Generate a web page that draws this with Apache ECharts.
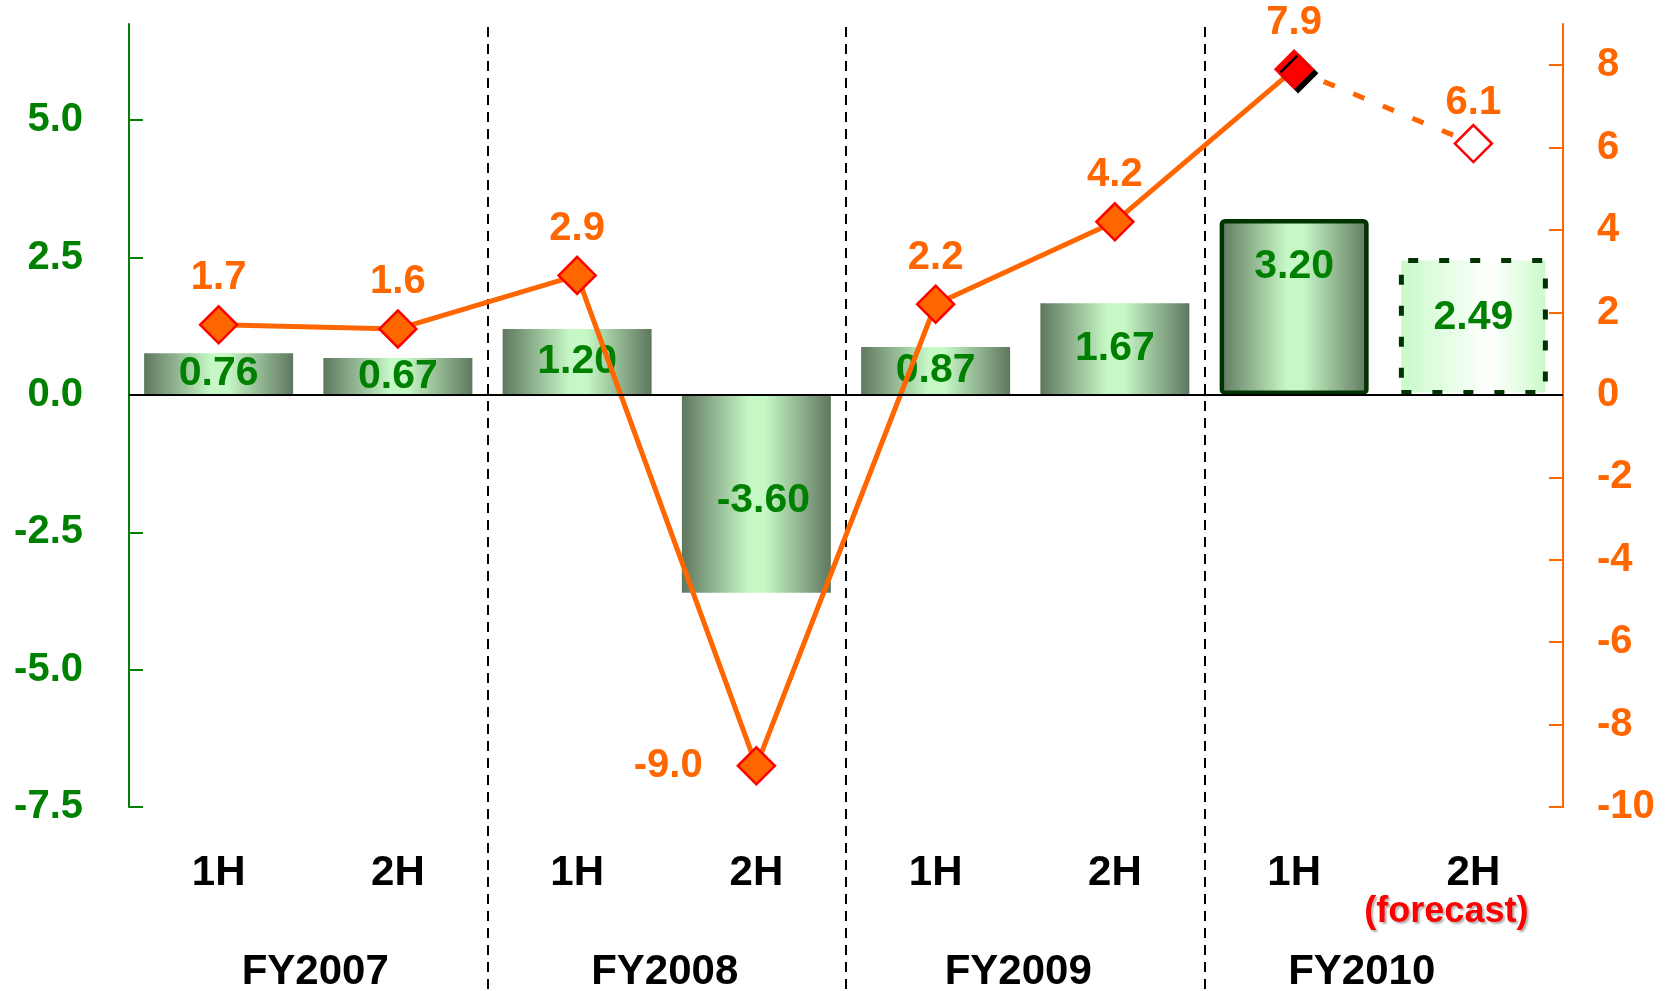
<!DOCTYPE html>
<html>
<head>
<meta charset="utf-8">
<script src="https://cdn.jsdelivr.net/npm/echarts@6/dist/echarts.min.js"></script>
<style>
html,body{margin:0;padding:0;background:#fff;}
#chart{width:1669px;height:991px;}
</style>
</head>
<body>
<div id="chart"></div>
<script>
const categories = ['1H', '2H', '1H', '2H', '1H', '2H', '1H', '2H'];
const fiscalYears = ['FY2007', 'FY2008', 'FY2009', 'FY2010'];
const barValues = [0.76, 0.67, 1.20, -3.60, 0.87, 1.67, 3.20, 2.49];
const lineValues = [1.7, 1.6, 2.9, -9.0, 2.2, 4.2, 7.9, 6.1];
const leftTicks = [-7.5, -5.0, -2.5, 0.0, 2.5, 5.0];
const rightTicks = [-10, -8, -6, -4, -2, 0, 2, 4, 6, 8];
const groupBoundaries = [1, 3, 5];
const latestActualIndex = 6;
const forecastIndex = 7;
const forecastNote = '(forecast)';

const FONT = '"Liberation Sans", Arial, sans-serif';
const GREEN = '#008000';
const ORANGE = '#FF6600';

const barGrad = {
  type: 'linear', x: 0, y: 0, x2: 1, y2: 0,
  colorStops: [
    { offset: 0, color: '#5f775f' },
    { offset: 0.45, color: '#c6f8c6' },
    { offset: 0.56, color: '#c6f8c6' },
    { offset: 1, color: '#5f775f' }
  ]
};
const forecastGrad = {
  type: 'linear', x: 0, y: 0, x2: 1, y2: 0,
  colorStops: [
    { offset: 0, color: '#c8fac8' },
    { offset: 0.62, color: '#ffffff' },
    { offset: 1, color: '#c8fac8' }
  ]
};

const barData = barValues.map((v, i) => {
  const item = { value: v };
  if (i === latestActualIndex) {
    item.itemStyle = { color: barGrad, borderColor: '#003300', borderWidth: 4.5, borderRadius: 3 };
    item.label = { position: 'insideTop', distance: 27 };
  } else if (i === forecastIndex) {
    item.itemStyle = { color: forecastGrad, borderColor: '#003300', borderWidth: 5, borderType: [10, 21] };
    item.label = { position: 'inside', offset: [0, -9] };
  } else if (v < 0) {
    item.label = { position: 'inside', offset: [7, 7] };
  }
  return item;
});

const solidData = lineValues.map((v, i) => {
  if (i > latestActualIndex) return '-';
  if (i === latestActualIndex) {
    return { value: v, itemStyle: { color: '#FF0000', borderColor: '#FF0000', shadowColor: '#000', shadowBlur: 0, shadowOffsetX: 4, shadowOffsetY: 4 } };
  }
  if (v < 0) {
    return { value: v, label: { position: 'left', distance: 34 } };
  }
  return v;
});
const dashedData = lineValues.map((v, i) => {
  if (i < latestActualIndex) return '-';
  if (i === latestActualIndex) return { value: v, symbol: 'none', label: { show: false } };
  return { value: v, itemStyle: { color: '#ffffff', borderColor: '#FF0000', borderWidth: 2.5 }, label: { distance: 1 } };
});

const chart = echarts.init(document.getElementById('chart'));
chart.setOption({
  animation: false,
  grid: { left: 129, right: 106, top: 24, bottom: 184, containLabel: false, outerBoundsMode: 'none' },
  xAxis: [
    {
      type: 'category', data: categories, position: 'bottom',
      axisLine: { show: false, onZero: false }, axisTick: { show: false },
      axisLabel: {
        interval: 0, margin: 45, color: '#000', fontFamily: FONT, fontWeight: 'bold', fontSize: 42, lineHeight: 42,
        formatter: (val, idx) => idx === forecastIndex ? val + '\n{f|' + forecastNote + '}' : val,
        rich: {
          f: { color: '#FF0000', fontFamily: FONT, fontWeight: 'bold', fontSize: 36, lineHeight: 36,
               padding: [0, 54, 0, 0],
               textShadowColor: 'rgba(0,0,0,0.3)', textShadowBlur: 2, textShadowOffsetX: 2, textShadowOffsetY: 2 }
        }
      }
    },
    {
      type: 'category', data: fiscalYears, position: 'bottom',
      axisLine: { show: false, onZero: false }, axisTick: { show: false },
      axisLabel: {
        interval: 0, margin: 144, color: '#000', fontFamily: FONT, fontWeight: 'bold', fontSize: 42,
        formatter: (val, idx) => '{s' + idx + '|' + val + '}',
        rich: {
          s0: { fontFamily: FONT, fontWeight: 'bold', fontSize: 42, color: '#000', padding: [0, 0, 0, 14] },
          s1: { fontFamily: FONT, fontWeight: 'bold', fontSize: 42, color: '#000', padding: [0, 4, 0, 0] },
          s2: { fontFamily: FONT, fontWeight: 'bold', fontSize: 42, color: '#000', padding: [0, 14, 0, 0] },
          s3: { fontFamily: FONT, fontWeight: 'bold', fontSize: 42, color: '#000', padding: [0, 44, 0, 0] }
        }
      }
    }
  ],
  yAxis: [
    {
      type: 'value', position: 'left', min: -7.5, max: 6.75,
      splitLine: { show: false },
      axisLine: { show: true, lineStyle: { color: GREEN, width: 2 } },
      axisTick: { show: true, inside: true, length: 14, lineStyle: { color: GREEN, width: 2 }, customValues: leftTicks },
      axisLabel: { color: GREEN, fontFamily: FONT, fontWeight: 'bold', fontSize: 40, margin: 46,
                   customValues: leftTicks, formatter: v => v.toFixed(1) }
    },
    {
      type: 'value', position: 'right', min: -10, max: 9,
      splitLine: { show: false },
      axisLine: { show: true, lineStyle: { color: ORANGE, width: 2 } },
      axisTick: { show: true, inside: true, length: 14, lineStyle: { color: ORANGE, width: 2 }, customValues: rightTicks },
      axisLabel: { color: ORANGE, fontFamily: FONT, fontWeight: 'bold', fontSize: 40, margin: 34,
                   customValues: rightTicks, formatter: v => String(v) }
    }
  ],
  series: [
    {
      type: 'custom', xAxisIndex: 0, yAxisIndex: 0, clip: false, silent: true, z: 1,
      data: groupBoundaries.map(b => [b, 0]),
      renderItem: (params, api) => {
        const p = api.coord([api.value(0), 0]);
        const band = api.size([1, 0])[0];
        const x = Math.round(p[0] + band / 2);
        return { type: 'line', shape: { x1: x, y1: 27, x2: x, y2: 991 },
                 style: { stroke: '#000', lineWidth: 2, lineDash: [10, 7] } };
      }
    },
    {
      type: 'bar', xAxisIndex: 0, yAxisIndex: 0, barWidth: 149, z: 2,
      data: barData,
      itemStyle: { color: barGrad },
      label: { show: true, position: 'inside', color: GREEN, fontFamily: FONT, fontWeight: 'bold', fontSize: 41,
               formatter: p => p.value.toFixed(2) },
      markLine: { silent: true, symbol: 'none', label: { show: false },
                  lineStyle: { color: '#000', width: 2, type: 'solid' }, data: [{ yAxis: 0 }] }
    },
    {
      type: 'line', xAxisIndex: 0, yAxisIndex: 1, z: 4,
      data: solidData,
      symbol: 'diamond', symbolSize: 37,
      lineStyle: { color: ORANGE, width: 5 },
      itemStyle: { color: ORANGE, borderColor: '#FF0000', borderWidth: 2.5 },
      label: { show: true, position: 'top', distance: 7, color: ORANGE, fontFamily: FONT, fontWeight: 'bold', fontSize: 40,
               formatter: p => Number(p.value).toFixed(1) }
    },
    {
      type: 'line', xAxisIndex: 0, yAxisIndex: 1, z: 3,
      data: dashedData,
      symbol: 'diamond', symbolSize: 37,
      lineStyle: { color: ORANGE, width: 5, type: [12, 20] },
      itemStyle: { color: ORANGE, borderColor: '#FF0000', borderWidth: 2.5 },
      label: { show: true, position: 'top', distance: 7, color: ORANGE, fontFamily: FONT, fontWeight: 'bold', fontSize: 40,
               formatter: p => Number(p.value).toFixed(1) }
    }
  ]
});
</script>
</body>
</html>
